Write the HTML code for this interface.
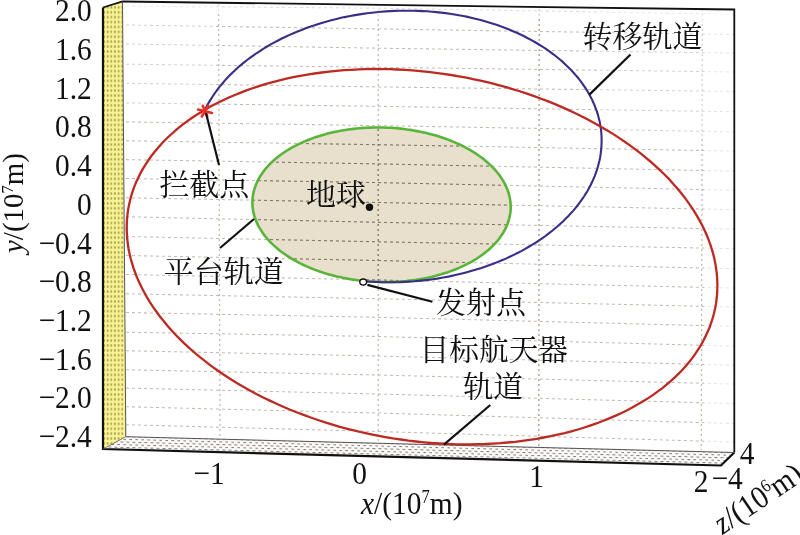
<!DOCTYPE html>
<html lang="zh-CN"><head><meta charset="utf-8"><title>轨道示意图</title>
<style>
html,body{margin:0;padding:0;background:#fff;}
body{width:800px;height:535px;overflow:hidden;}
svg{display:block;}
.gh{stroke-width:1.05;stroke-dasharray:3 3;fill:none;}
.gv{stroke-width:1.3;stroke-dasharray:2 3;fill:none;}
.lt{stroke:#c6baae;}
.dk{stroke:#7d7466;}
.dk .gh{stroke-width:1;}
.dk .gv{stroke-width:1.1;}
.n{font-family:"Liberation Serif","Noto Serif CJK SC",serif;font-size:32px;fill:#111;}
.c{font-family:"Liberation Serif","Noto Serif CJK SC",serif;fill:#111;}
</style></head><body>
<svg width="800" height="535" viewBox="0 0 800 535">
<defs>
<clipPath id="cb"><polygon points="123.5,2.5 733.5,10 733.5,452 126.5,436.5"/></clipPath>
<clipPath id="cg"><path d="M252.4 201.3 L252.5 199.3 L252.7 197.3 L253.0 195.2 L253.4 193.2 L253.8 191.2 L254.4 189.3 L255.0 187.3 L255.7 185.3 L256.5 183.4 L257.4 181.4 L258.3 179.5 L259.4 177.6 L260.5 175.7 L261.8 173.9 L263.1 172.0 L264.4 170.2 L265.9 168.4 L267.5 166.6 L269.1 164.9 L270.8 163.1 L272.6 161.5 L274.4 159.8 L276.3 158.2 L278.3 156.6 L280.4 155.0 L282.5 153.5 L284.7 152.0 L287.0 150.5 L289.3 149.1 L291.7 147.7 L294.2 146.4 L296.7 145.1 L299.3 143.8 L301.9 142.6 L304.6 141.4 L307.3 140.2 L310.1 139.2 L313.0 138.1 L315.9 137.1 L318.8 136.2 L321.8 135.2 L324.8 134.4 L327.8 133.6 L330.9 132.8 L334.1 132.1 L337.2 131.4 L340.4 130.8 L343.6 130.2 L346.9 129.7 L350.1 129.3 L353.4 128.9 L356.7 128.5 L360.1 128.2 L363.4 127.9 L366.7 127.7 L370.1 127.6 L373.5 127.5 L376.9 127.5 L380.2 127.5 L383.6 127.5 L387.0 127.7 L390.4 127.8 L393.7 128.0 L397.1 128.3 L400.5 128.6 L403.8 129.0 L407.1 129.5 L410.4 129.9 L413.7 130.5 L417.0 131.1 L420.2 131.7 L423.4 132.4 L426.6 133.1 L429.7 133.9 L432.9 134.7 L435.9 135.6 L439.0 136.5 L442.0 137.5 L445.0 138.5 L447.9 139.6 L450.8 140.7 L453.6 141.9 L456.4 143.1 L459.1 144.3 L461.8 145.6 L464.4 146.9 L467.0 148.3 L469.5 149.7 L471.9 151.1 L474.3 152.6 L476.6 154.1 L478.9 155.7 L481.1 157.2 L483.2 158.8 L485.2 160.5 L487.2 162.2 L489.1 163.9 L491.0 165.6 L492.7 167.4 L494.4 169.1 L496.0 170.9 L497.5 172.8 L499.0 174.6 L500.3 176.5 L501.6 178.4 L502.8 180.3 L503.9 182.2 L505.0 184.2 L505.9 186.1 L506.8 188.1 L507.6 190.1 L508.3 192.1 L508.9 194.1 L509.4 196.1 L509.8 198.1 L510.2 200.1 L510.4 202.1 L510.6 204.2 L510.7 206.2 L510.7 208.2 L510.6 210.2 L510.4 212.2 L510.1 214.3 L509.7 216.3 L509.3 218.3 L508.7 220.2 L508.1 222.2 L507.4 224.2 L506.6 226.1 L505.7 228.1 L504.8 230.0 L503.7 231.9 L502.6 233.8 L501.3 235.6 L500.0 237.5 L498.7 239.3 L497.2 241.1 L495.6 242.9 L494.0 244.6 L492.3 246.4 L490.5 248.0 L488.7 249.7 L486.8 251.3 L484.8 252.9 L482.7 254.5 L480.6 256.0 L478.4 257.5 L476.1 259.0 L473.8 260.4 L471.4 261.8 L468.9 263.1 L466.4 264.4 L463.8 265.7 L461.2 266.9 L458.5 268.1 L455.8 269.3 L453.0 270.3 L450.1 271.4 L447.2 272.4 L444.3 273.3 L441.3 274.3 L438.3 275.1 L435.3 275.9 L432.2 276.7 L429.0 277.4 L425.9 278.1 L422.7 278.7 L419.5 279.3 L416.2 279.8 L413.0 280.2 L409.7 280.6 L406.4 281.0 L403.0 281.3 L399.7 281.6 L396.4 281.8 L393.0 281.9 L389.6 282.0 L386.2 282.0 L382.9 282.0 L379.5 282.0 L376.1 281.8 L372.7 281.7 L369.4 281.5 L366.0 281.2 L362.6 280.9 L359.3 280.5 L356.0 280.0 L352.7 279.6 L349.4 279.0 L346.1 278.4 L342.9 277.8 L339.7 277.1 L336.5 276.4 L333.4 275.6 L330.2 274.8 L327.2 273.9 L324.1 273.0 L321.1 272.0 L318.1 271.0 L315.2 269.9 L312.3 268.8 L309.5 267.6 L306.7 266.4 L304.0 265.2 L301.3 263.9 L298.7 262.6 L296.1 261.2 L293.6 259.8 L291.2 258.4 L288.8 256.9 L286.5 255.4 L284.2 253.8 L282.0 252.3 L279.9 250.7 L277.9 249.0 L275.9 247.3 L274.0 245.6 L272.1 243.9 L270.4 242.1 L268.7 240.4 L267.1 238.6 L265.6 236.7 L264.1 234.9 L262.8 233.0 L261.5 231.1 L260.3 229.2 L259.2 227.3 L258.1 225.3 L257.2 223.4 L256.3 221.4 L255.5 219.4 L254.8 217.4 L254.2 215.4 L253.7 213.4 L253.3 211.4 L252.9 209.4 L252.7 207.4 L252.5 205.3 L252.4 203.3 L252.4 201.3 Z"/></clipPath>
<pattern id="py" width="3.65" height="4.9" patternUnits="userSpaceOnUse"><rect width="3.65" height="4.9" fill="#f8f392"/><rect x="1.2" y="1.3" width="1.2" height="2.3" fill="#847b38"/></pattern>
<pattern id="pf" width="6" height="5.4" patternUnits="userSpaceOnUse" patternTransform="skewY(1.5)"><rect width="6" height="5.4" fill="#fbfaf9"/><rect x="0.4" y="0.9" width="3" height="1" fill="#7f7b76"/><rect x="3.4" y="3.6" width="3" height="1" fill="#7f7b76"/></pattern>
</defs>
<rect x="0" y="0" width="800" height="535" fill="#fff"/>
<path d="M252.4 201.3 L252.5 199.3 L252.7 197.3 L253.0 195.2 L253.4 193.2 L253.8 191.2 L254.4 189.3 L255.0 187.3 L255.7 185.3 L256.5 183.4 L257.4 181.4 L258.3 179.5 L259.4 177.6 L260.5 175.7 L261.8 173.9 L263.1 172.0 L264.4 170.2 L265.9 168.4 L267.5 166.6 L269.1 164.9 L270.8 163.1 L272.6 161.5 L274.4 159.8 L276.3 158.2 L278.3 156.6 L280.4 155.0 L282.5 153.5 L284.7 152.0 L287.0 150.5 L289.3 149.1 L291.7 147.7 L294.2 146.4 L296.7 145.1 L299.3 143.8 L301.9 142.6 L304.6 141.4 L307.3 140.2 L310.1 139.2 L313.0 138.1 L315.9 137.1 L318.8 136.2 L321.8 135.2 L324.8 134.4 L327.8 133.6 L330.9 132.8 L334.1 132.1 L337.2 131.4 L340.4 130.8 L343.6 130.2 L346.9 129.7 L350.1 129.3 L353.4 128.9 L356.7 128.5 L360.1 128.2 L363.4 127.9 L366.7 127.7 L370.1 127.6 L373.5 127.5 L376.9 127.5 L380.2 127.5 L383.6 127.5 L387.0 127.7 L390.4 127.8 L393.7 128.0 L397.1 128.3 L400.5 128.6 L403.8 129.0 L407.1 129.5 L410.4 129.9 L413.7 130.5 L417.0 131.1 L420.2 131.7 L423.4 132.4 L426.6 133.1 L429.7 133.9 L432.9 134.7 L435.9 135.6 L439.0 136.5 L442.0 137.5 L445.0 138.5 L447.9 139.6 L450.8 140.7 L453.6 141.9 L456.4 143.1 L459.1 144.3 L461.8 145.6 L464.4 146.9 L467.0 148.3 L469.5 149.7 L471.9 151.1 L474.3 152.6 L476.6 154.1 L478.9 155.7 L481.1 157.2 L483.2 158.8 L485.2 160.5 L487.2 162.2 L489.1 163.9 L491.0 165.6 L492.7 167.4 L494.4 169.1 L496.0 170.9 L497.5 172.8 L499.0 174.6 L500.3 176.5 L501.6 178.4 L502.8 180.3 L503.9 182.2 L505.0 184.2 L505.9 186.1 L506.8 188.1 L507.6 190.1 L508.3 192.1 L508.9 194.1 L509.4 196.1 L509.8 198.1 L510.2 200.1 L510.4 202.1 L510.6 204.2 L510.7 206.2 L510.7 208.2 L510.6 210.2 L510.4 212.2 L510.1 214.3 L509.7 216.3 L509.3 218.3 L508.7 220.2 L508.1 222.2 L507.4 224.2 L506.6 226.1 L505.7 228.1 L504.8 230.0 L503.7 231.9 L502.6 233.8 L501.3 235.6 L500.0 237.5 L498.7 239.3 L497.2 241.1 L495.6 242.9 L494.0 244.6 L492.3 246.4 L490.5 248.0 L488.7 249.7 L486.8 251.3 L484.8 252.9 L482.7 254.5 L480.6 256.0 L478.4 257.5 L476.1 259.0 L473.8 260.4 L471.4 261.8 L468.9 263.1 L466.4 264.4 L463.8 265.7 L461.2 266.9 L458.5 268.1 L455.8 269.3 L453.0 270.3 L450.1 271.4 L447.2 272.4 L444.3 273.3 L441.3 274.3 L438.3 275.1 L435.3 275.9 L432.2 276.7 L429.0 277.4 L425.9 278.1 L422.7 278.7 L419.5 279.3 L416.2 279.8 L413.0 280.2 L409.7 280.6 L406.4 281.0 L403.0 281.3 L399.7 281.6 L396.4 281.8 L393.0 281.9 L389.6 282.0 L386.2 282.0 L382.9 282.0 L379.5 282.0 L376.1 281.8 L372.7 281.7 L369.4 281.5 L366.0 281.2 L362.6 280.9 L359.3 280.5 L356.0 280.0 L352.7 279.6 L349.4 279.0 L346.1 278.4 L342.9 277.8 L339.7 277.1 L336.5 276.4 L333.4 275.6 L330.2 274.8 L327.2 273.9 L324.1 273.0 L321.1 272.0 L318.1 271.0 L315.2 269.9 L312.3 268.8 L309.5 267.6 L306.7 266.4 L304.0 265.2 L301.3 263.9 L298.7 262.6 L296.1 261.2 L293.6 259.8 L291.2 258.4 L288.8 256.9 L286.5 255.4 L284.2 253.8 L282.0 252.3 L279.9 250.7 L277.9 249.0 L275.9 247.3 L274.0 245.6 L272.1 243.9 L270.4 242.1 L268.7 240.4 L267.1 238.6 L265.6 236.7 L264.1 234.9 L262.8 233.0 L261.5 231.1 L260.3 229.2 L259.2 227.3 L258.1 225.3 L257.2 223.4 L256.3 221.4 L255.5 219.4 L254.8 217.4 L254.2 215.4 L253.7 213.4 L253.3 211.4 L252.9 209.4 L252.7 207.4 L252.5 205.3 L252.4 203.3 L252.4 201.3 Z" fill="#e8e0cc" stroke="none"/>
<g class="lt" clip-path="url(#cb)"><path class="gh" d="M120 6.0 L378 8.2 L736 14.3"/><path class="gh" d="M120 24.9 L378 28.9 L736 34.6"/><path class="gh" d="M120 43.9 L378 48.2 L736 53.1"/><path class="gh" d="M120 64.1 L378 67.3 L736 72.0"/><path class="gh" d="M120 83.2 L378 86.9 L736 91.5"/><path class="gh" d="M120 102.8 L378 106.3 L736 111.8"/><path class="gh" d="M120 121.8 L378 125.6 L736 131.9"/><path class="gh" d="M120 140.7 L378 144.7 L736 151.1"/><path class="gh" d="M120 159.5 L378 163.9 L736 171.2"/><path class="gh" d="M120 178.4 L378 182.6 L736 190.3"/><path class="gh" d="M120 197.7 L378 202.5 L736 209.7"/><path class="gh" d="M120 216.6 L378 222.3 L736 229.2"/><path class="gh" d="M120 236.4 L378 241.8 L736 248.7"/><path class="gh" d="M120 255.4 L378 260.5 L736 268.8"/><path class="gh" d="M120 274.3 L378 280.0 L736 288.1"/><path class="gh" d="M120 293.7 L378 298.7 L736 307.1"/><path class="gh" d="M120 312.4 L378 317.3 L736 326.4"/><path class="gh" d="M120 332.1 L378 336.5 L736 346.2"/><path class="gh" d="M120 350.6 L378 356.0 L736 365.3"/><path class="gh" d="M120 369.6 L378 375.0 L736 384.1"/><path class="gh" d="M120 387.9 L378 394.0 L736 403.6"/><path class="gh" d="M120 406.6 L378 413.0 L736 423.6"/><path class="gh" d="M120 424.5 L378 431.5 L736 442.1"/><line class="gv" x1="218.6" y1="4" x2="220.0" y2="450"/><line class="gv" x1="378.2" y1="4" x2="378.2" y2="450"/><line class="gv" style="stroke:#a4988c" x1="539.2" y1="4" x2="538.8" y2="450"/><line class="gv" x1="702.4" y1="4" x2="701.3" y2="450"/></g>
<rect x="704" y="10" width="29" height="442" fill="#fff" opacity="0.6"/>
<polygon points="124,3 733,10 733,21 124,13" fill="#fff" opacity="0.5"/>
<rect x="124" y="3" width="92" height="110" fill="#fff" opacity="0.35"/>
<rect x="600" y="10" width="104" height="128" fill="#fff" opacity="0.35"/>
<g class="dk" clip-path="url(#cg)"><path class="gh" d="M120 6.0 L378 8.2 L736 14.3"/><path class="gh" d="M120 24.9 L378 28.9 L736 34.6"/><path class="gh" d="M120 43.9 L378 48.2 L736 53.1"/><path class="gh" d="M120 64.1 L378 67.3 L736 72.0"/><path class="gh" d="M120 83.2 L378 86.9 L736 91.5"/><path class="gh" d="M120 102.8 L378 106.3 L736 111.8"/><path class="gh" d="M120 121.8 L378 125.6 L736 131.9"/><path class="gh" d="M120 140.7 L378 144.7 L736 151.1"/><path class="gh" d="M120 159.5 L378 163.9 L736 171.2"/><path class="gh" d="M120 178.4 L378 182.6 L736 190.3"/><path class="gh" d="M120 197.7 L378 202.5 L736 209.7"/><path class="gh" d="M120 216.6 L378 222.3 L736 229.2"/><path class="gh" d="M120 236.4 L378 241.8 L736 248.7"/><path class="gh" d="M120 255.4 L378 260.5 L736 268.8"/><path class="gh" d="M120 274.3 L378 280.0 L736 288.1"/><path class="gh" d="M120 293.7 L378 298.7 L736 307.1"/><path class="gh" d="M120 312.4 L378 317.3 L736 326.4"/><path class="gh" d="M120 332.1 L378 336.5 L736 346.2"/><path class="gh" d="M120 350.6 L378 356.0 L736 365.3"/><path class="gh" d="M120 369.6 L378 375.0 L736 384.1"/><path class="gh" d="M120 387.9 L378 394.0 L736 403.6"/><path class="gh" d="M120 406.6 L378 413.0 L736 423.6"/><path class="gh" d="M120 424.5 L378 431.5 L736 442.1"/><line class="gv" x1="218.6" y1="4" x2="220.0" y2="450"/><line class="gv" x1="378.2" y1="4" x2="378.2" y2="450"/><line class="gv" style="stroke:#a4988c" x1="539.2" y1="4" x2="538.8" y2="450"/><line class="gv" x1="702.4" y1="4" x2="701.3" y2="450"/></g>
<polygon points="103.0,7.5 122.5,1.5 125.8,436.7 103.0,449.0" fill="url(#py)" stroke="none"/>
<polygon points="103.0,449.0 125.8,436.7 734.3,452.5 721.0,465.5" fill="url(#pf)" stroke="none"/>
<path d="M103.0 7.5 L122.5 1.5 L734.3 9.5 L734.3 452.5" fill="none" stroke="#111" stroke-width="1.8"/>
<path d="M103.0 7.5 L103.0 449.0 L721.0 465.5 L734.3 452.5" fill="none" stroke="#111" stroke-width="2.2" stroke-linejoin="miter"/>
<path d="M122.5 1.5 L125.8 436.7 L734.3 452.5" fill="none" stroke="#555" stroke-width="1"/>
<path d="M103.0 449.0 L125.8 436.7" fill="none" stroke="#5a5a50" stroke-width="0.8"/>
<path d="M252.4 201.3 L252.5 199.3 L252.7 197.3 L253.0 195.2 L253.4 193.2 L253.8 191.2 L254.4 189.3 L255.0 187.3 L255.7 185.3 L256.5 183.4 L257.4 181.4 L258.3 179.5 L259.4 177.6 L260.5 175.7 L261.8 173.9 L263.1 172.0 L264.4 170.2 L265.9 168.4 L267.5 166.6 L269.1 164.9 L270.8 163.1 L272.6 161.5 L274.4 159.8 L276.3 158.2 L278.3 156.6 L280.4 155.0 L282.5 153.5 L284.7 152.0 L287.0 150.5 L289.3 149.1 L291.7 147.7 L294.2 146.4 L296.7 145.1 L299.3 143.8 L301.9 142.6 L304.6 141.4 L307.3 140.2 L310.1 139.2 L313.0 138.1 L315.9 137.1 L318.8 136.2 L321.8 135.2 L324.8 134.4 L327.8 133.6 L330.9 132.8 L334.1 132.1 L337.2 131.4 L340.4 130.8 L343.6 130.2 L346.9 129.7 L350.1 129.3 L353.4 128.9 L356.7 128.5 L360.1 128.2 L363.4 127.9 L366.7 127.7 L370.1 127.6 L373.5 127.5 L376.9 127.5 L380.2 127.5 L383.6 127.5 L387.0 127.7 L390.4 127.8 L393.7 128.0 L397.1 128.3 L400.5 128.6 L403.8 129.0 L407.1 129.5 L410.4 129.9 L413.7 130.5 L417.0 131.1 L420.2 131.7 L423.4 132.4 L426.6 133.1 L429.7 133.9 L432.9 134.7 L435.9 135.6 L439.0 136.5 L442.0 137.5 L445.0 138.5 L447.9 139.6 L450.8 140.7 L453.6 141.9 L456.4 143.1 L459.1 144.3 L461.8 145.6 L464.4 146.9 L467.0 148.3 L469.5 149.7 L471.9 151.1 L474.3 152.6 L476.6 154.1 L478.9 155.7 L481.1 157.2 L483.2 158.8 L485.2 160.5 L487.2 162.2 L489.1 163.9 L491.0 165.6 L492.7 167.4 L494.4 169.1 L496.0 170.9 L497.5 172.8 L499.0 174.6 L500.3 176.5 L501.6 178.4 L502.8 180.3 L503.9 182.2 L505.0 184.2 L505.9 186.1 L506.8 188.1 L507.6 190.1 L508.3 192.1 L508.9 194.1 L509.4 196.1 L509.8 198.1 L510.2 200.1 L510.4 202.1 L510.6 204.2 L510.7 206.2 L510.7 208.2 L510.6 210.2 L510.4 212.2 L510.1 214.3 L509.7 216.3 L509.3 218.3 L508.7 220.2 L508.1 222.2 L507.4 224.2 L506.6 226.1 L505.7 228.1 L504.8 230.0 L503.7 231.9 L502.6 233.8 L501.3 235.6 L500.0 237.5 L498.7 239.3 L497.2 241.1 L495.6 242.9 L494.0 244.6 L492.3 246.4 L490.5 248.0 L488.7 249.7 L486.8 251.3 L484.8 252.9 L482.7 254.5 L480.6 256.0 L478.4 257.5 L476.1 259.0 L473.8 260.4 L471.4 261.8 L468.9 263.1 L466.4 264.4 L463.8 265.7 L461.2 266.9 L458.5 268.1 L455.8 269.3 L453.0 270.3 L450.1 271.4 L447.2 272.4 L444.3 273.3 L441.3 274.3 L438.3 275.1 L435.3 275.9 L432.2 276.7 L429.0 277.4 L425.9 278.1 L422.7 278.7 L419.5 279.3 L416.2 279.8 L413.0 280.2 L409.7 280.6 L406.4 281.0 L403.0 281.3 L399.7 281.6 L396.4 281.8 L393.0 281.9 L389.6 282.0 L386.2 282.0 L382.9 282.0 L379.5 282.0 L376.1 281.8 L372.7 281.7 L369.4 281.5 L366.0 281.2 L362.6 280.9 L359.3 280.5 L356.0 280.0 L352.7 279.6 L349.4 279.0 L346.1 278.4 L342.9 277.8 L339.7 277.1 L336.5 276.4 L333.4 275.6 L330.2 274.8 L327.2 273.9 L324.1 273.0 L321.1 272.0 L318.1 271.0 L315.2 269.9 L312.3 268.8 L309.5 267.6 L306.7 266.4 L304.0 265.2 L301.3 263.9 L298.7 262.6 L296.1 261.2 L293.6 259.8 L291.2 258.4 L288.8 256.9 L286.5 255.4 L284.2 253.8 L282.0 252.3 L279.9 250.7 L277.9 249.0 L275.9 247.3 L274.0 245.6 L272.1 243.9 L270.4 242.1 L268.7 240.4 L267.1 238.6 L265.6 236.7 L264.1 234.9 L262.8 233.0 L261.5 231.1 L260.3 229.2 L259.2 227.3 L258.1 225.3 L257.2 223.4 L256.3 221.4 L255.5 219.4 L254.8 217.4 L254.2 215.4 L253.7 213.4 L253.3 211.4 L252.9 209.4 L252.7 207.4 L252.5 205.3 L252.4 203.3 L252.4 201.3 Z" fill="none" stroke="#58b53a" stroke-width="2.6"/>
<path d="M205.4 109.0 L206.9 106.0 L208.5 103.1 L210.3 100.1 L212.1 97.2 L214.0 94.4 L216.0 91.5 L218.1 88.7 L220.3 85.9 L222.6 83.2 L225.0 80.4 L227.4 77.7 L230.0 75.1 L232.6 72.5 L235.4 69.9 L238.2 67.3 L241.1 64.9 L244.1 62.4 L247.1 60.0 L250.3 57.6 L253.5 55.3 L256.8 53.0 L260.2 50.8 L263.6 48.6 L267.1 46.5 L270.7 44.4 L274.4 42.4 L278.1 40.5 L281.8 38.5 L285.7 36.7 L289.6 34.9 L293.5 33.2 L297.5 31.5 L301.6 29.9 L305.7 28.3 L309.8 26.8 L314.0 25.4 L318.3 24.0 L322.6 22.7 L326.9 21.4 L331.2 20.3 L335.6 19.2 L340.1 18.1 L344.5 17.1 L349.0 16.2 L353.5 15.4 L358.1 14.6 L362.6 13.9 L367.2 13.3 L371.8 12.7 L376.4 12.2 L381.0 11.8 L385.6 11.4 L390.3 11.1 L394.9 10.9 L399.5 10.7 L404.2 10.7 L408.8 10.7 L413.5 10.7 L418.1 10.9 L422.7 11.1 L427.3 11.3 L431.9 11.7 L436.4 12.1 L441.0 12.6 L445.5 13.1 L450.0 13.8 L454.5 14.5 L458.9 15.2 L463.3 16.0 L467.7 16.9 L472.1 17.9 L476.4 18.9 L480.6 20.0 L484.8 21.2 L489.0 22.4 L493.1 23.7 L497.2 25.1 L501.2 26.5 L505.2 28.0 L509.1 29.5 L513.0 31.2 L516.8 32.8 L520.5 34.5 L524.2 36.3 L527.8 38.2 L531.4 40.1 L534.8 42.0 L538.2 44.0 L541.6 46.1 L544.8 48.2 L548.0 50.4 L551.1 52.6 L554.1 54.8 L557.1 57.2 L559.9 59.5 L562.7 61.9 L565.4 64.4 L568.0 66.9 L570.5 69.4 L572.9 72.0 L575.2 74.6 L577.5 77.2 L579.6 79.9 L581.7 82.6 L583.6 85.4 L585.5 88.1 L587.3 91.0 L588.9 93.8 L590.5 96.7 L592.0 99.6 L593.3 102.5 L594.6 105.4 L595.7 108.4 L596.8 111.4 L597.8 114.4 L598.6 117.4 L599.4 120.4 L600.0 123.5 L600.5 126.5 L601.0 129.6 L601.3 132.7 L601.5 135.8 L601.6 138.9 L601.6 142.0 L601.5 145.1 L601.3 148.2 L601.0 151.3 L600.6 154.3 L600.1 157.4 L599.5 160.5 L598.7 163.6 L597.9 166.7 L597.0 169.7 L595.9 172.8 L594.8 175.8 L593.5 178.8 L592.2 181.8 L590.8 184.8 L589.2 187.8 L587.6 190.7 L585.8 193.6 L584.0 196.5 L582.0 199.4 L580.0 202.2 L577.9 205.0 L575.6 207.8 L573.3 210.6 L570.9 213.3 L568.4 216.0 L565.8 218.6 L563.2 221.2 L560.4 223.8 L557.6 226.3 L554.6 228.8 L551.6 231.2 L548.5 233.6 L545.4 236.0 L542.1 238.3 L538.8 240.6 L535.4 242.8 L532.0 244.9 L528.4 247.0 L524.8 249.1 L521.2 251.1 L517.5 253.0 L513.7 254.9 L509.8 256.8 L505.9 258.6 L501.9 260.3 L497.9 261.9 L493.9 263.5 L489.7 265.1 L485.6 266.6 L481.4 268.0 L477.1 269.3 L472.8 270.6 L468.5 271.8 L464.1 273.0 L459.7 274.1 L455.3 275.1 L450.8 276.1 L446.3 277.0 L441.8 277.8 L437.2 278.6 L432.7 279.2 L428.1 279.9 L423.5 280.4 L418.9 280.9 L414.3 281.3 L409.6 281.6 L405.0 281.9 L400.4 282.1 L395.7 282.2 L391.1 282.3 L386.4 282.3 L381.8 282.2 L377.2 282.0 L372.6 281.8 L368.0 281.5 L363.4 281.2" fill="none" stroke="#3a2e88" stroke-width="2.1"/>
<path d="M128.1 209.7 L129.0 204.9 L130.1 200.2 L131.3 195.6 L132.8 190.9 L134.4 186.4 L136.3 181.8 L138.4 177.4 L140.6 172.9 L143.0 168.6 L145.7 164.3 L148.5 160.0 L151.5 155.8 L154.7 151.7 L158.1 147.7 L161.6 143.7 L165.4 139.8 L169.3 136.0 L173.4 132.3 L177.6 128.7 L182.0 125.1 L186.6 121.7 L191.4 118.3 L196.3 115.0 L201.4 111.9 L206.6 108.8 L211.9 105.8 L217.4 103.0 L223.1 100.2 L228.9 97.5 L234.8 95.0 L240.8 92.6 L247.0 90.2 L253.3 88.0 L259.7 85.9 L266.2 83.9 L272.8 82.1 L279.5 80.3 L286.4 78.7 L293.3 77.2 L300.3 75.9 L307.4 74.6 L314.5 73.5 L321.8 72.5 L329.1 71.6 L336.4 70.9 L343.9 70.2 L351.3 69.8 L358.9 69.4 L366.4 69.2 L374.1 69.0 L381.7 69.1 L389.4 69.2 L397.1 69.5 L404.8 69.9 L412.5 70.4 L420.2 71.1 L428.0 71.9 L435.7 72.8 L443.4 73.9 L451.1 75.0 L458.8 76.3 L466.5 77.7 L474.1 79.3 L481.7 80.9 L489.2 82.7 L496.7 84.6 L504.2 86.6 L511.6 88.8 L518.9 91.0 L526.2 93.4 L533.4 95.9 L540.5 98.5 L547.6 101.1 L554.5 103.9 L561.4 106.9 L568.1 109.9 L574.8 113.0 L581.4 116.2 L587.8 119.5 L594.2 122.9 L600.4 126.4 L606.5 130.0 L612.5 133.6 L618.3 137.4 L624.0 141.2 L629.6 145.1 L635.0 149.1 L640.3 153.2 L645.4 157.3 L650.4 161.5 L655.3 165.8 L659.9 170.1 L664.4 174.5 L668.8 178.9 L672.9 183.4 L676.9 188.0 L680.7 192.6 L684.4 197.2 L687.8 201.9 L691.1 206.6 L694.2 211.3 L697.1 216.1 L699.8 220.9 L702.4 225.8 L704.7 230.6 L706.9 235.5 L708.8 240.4 L710.6 245.3 L712.1 250.2 L713.5 255.1 L714.6 260.0 L715.6 264.9 L716.3 269.8 L716.9 274.7 L717.2 279.6 L717.4 284.5 L717.3 289.3 L717.1 294.2 L716.6 299.0 L716.0 303.7 L715.1 308.5 L714.0 313.2 L712.8 317.8 L711.3 322.5 L709.7 327.0 L707.8 331.6 L705.7 336.0 L703.5 340.5 L701.1 344.8 L698.4 349.1 L695.6 353.4 L692.6 357.6 L689.4 361.7 L686.0 365.7 L682.5 369.7 L678.7 373.6 L674.8 377.4 L670.7 381.1 L666.5 384.7 L662.1 388.3 L657.5 391.7 L652.7 395.1 L647.8 398.4 L642.7 401.5 L637.5 404.6 L632.2 407.6 L626.7 410.4 L621.0 413.2 L615.2 415.9 L609.3 418.4 L603.3 420.8 L597.1 423.2 L590.8 425.4 L584.4 427.5 L577.9 429.5 L571.3 431.3 L564.6 433.1 L557.7 434.7 L550.8 436.2 L543.8 437.5 L536.7 438.8 L529.6 439.9 L522.3 440.9 L515.0 441.8 L507.7 442.5 L500.2 443.2 L492.8 443.6 L485.2 444.0 L477.7 444.2 L470.0 444.4 L462.4 444.3 L454.7 444.2 L447.0 443.9 L439.3 443.5 L431.6 443.0 L423.9 442.3 L416.1 441.5 L408.4 440.6 L400.7 439.5 L393.0 438.4 L385.3 437.1 L377.6 435.7 L370.0 434.1 L362.4 432.5 L354.9 430.7 L347.4 428.8 L339.9 426.8 L332.5 424.6 L325.2 422.4 L317.9 420.0 L310.7 417.5 L303.6 414.9 L296.5 412.3 L289.6 409.5 L282.7 406.5 L276.0 403.5 L269.3 400.4 L262.7 397.2 L256.3 393.9 L249.9 390.5 L243.7 387.0 L237.6 383.4 L231.6 379.8 L225.8 376.0 L220.1 372.2 L214.5 368.3 L209.1 364.3 L203.8 360.2 L198.7 356.1 L193.7 351.9 L188.8 347.6 L184.2 343.3 L179.7 338.9 L175.3 334.5 L171.2 330.0 L167.2 325.4 L163.4 320.8 L159.7 316.2 L156.3 311.5 L153.0 306.8 L149.9 302.1 L147.0 297.3 L144.3 292.5 L141.7 287.6 L139.4 282.8 L137.2 277.9 L135.3 273.0 L133.5 268.1 L132.0 263.2 L130.6 258.3 L129.5 253.4 L128.5 248.5 L127.8 243.6 L127.2 238.7 L126.9 233.8 L126.7 228.9 L126.8 224.1 L127.0 219.2 L127.5 214.4 L128.1 209.7 Z" fill="none" stroke="#bd2a22" stroke-width="2.3"/>
<circle cx="369.5" cy="207.3" r="3.7" fill="#111"/>
<ellipse cx="363.2" cy="282" rx="3.4" ry="3" fill="#fff" stroke="#111" stroke-width="1.4"/>
<g stroke="#eb2f25" stroke-width="2.6" stroke-linecap="round"><path d="M198.0 109.5L212.0 112.9 M201.8 116.5L208.2 105.9 M202.8 105.8L207.2 116.6"/></g>
<g stroke="#111" stroke-width="2.2" fill="none"><path d="M206 113L219 165"/><path d="M630.5 54.5L589.4 94.6"/><path d="M254 219L220 248"/><path d="M367.4 284.9L432.4 301.8"/><path d="M490.3 405L443.9 444.6"/></g>
<text class="c" x="582.5" y="46.7" font-size="30">转移轨道</text>
<text class="c" x="159.2" y="194.5" font-size="30">拦截点</text>
<text class="c" x="306.0" y="205.0" font-size="30">地球</text>
<text class="c" x="163.8" y="282.0" font-size="30">平台轨道</text>
<text class="c" x="436.0" y="313.0" font-size="30">发射点</text>
<text class="c" x="419.6" y="360.2" font-size="29.7">目标航天器</text>
<text class="c" x="463.3" y="396.8" font-size="30">轨道</text>
<text class="n" transform="translate(91.8,21.3) scale(0.92,1)" text-anchor="end">2.0</text>
<text class="n" transform="translate(91.8,60.0) scale(0.92,1)" text-anchor="end">1.6</text>
<text class="n" transform="translate(91.8,98.7) scale(0.92,1)" text-anchor="end">1.2</text>
<text class="n" transform="translate(91.8,137.4) scale(0.92,1)" text-anchor="end">0.8</text>
<text class="n" transform="translate(91.8,176.1) scale(0.92,1)" text-anchor="end">0.4</text>
<text class="n" transform="translate(91.8,214.8) scale(0.92,1)" text-anchor="end">0</text>
<text class="n" transform="translate(91.8,253.5) scale(0.92,1)" text-anchor="end">−0.4</text>
<text class="n" transform="translate(91.8,292.2) scale(0.92,1)" text-anchor="end">−0.8</text>
<text class="n" transform="translate(91.8,330.9) scale(0.92,1)" text-anchor="end">−1.2</text>
<text class="n" transform="translate(91.8,369.6) scale(0.92,1)" text-anchor="end">−1.6</text>
<text class="n" transform="translate(91.8,408.3) scale(0.92,1)" text-anchor="end">−2.0</text>
<text class="n" transform="translate(91.8,447.0) scale(0.92,1)" text-anchor="end">−2.4</text>
<text class="n" transform="translate(209.0,484.2) scale(0.92,1)" text-anchor="middle">−1</text>
<text class="n" transform="translate(359.5,484.2) scale(0.92,1)" text-anchor="middle">0</text>
<text class="n" transform="translate(536.5,487.1) scale(0.92,1)" text-anchor="middle">1</text>
<text class="n" transform="translate(701.0,492.4) scale(0.92,1)" text-anchor="middle">2</text>
<text class="n" transform="translate(747.0,463.6) scale(0.92,1)" text-anchor="middle">4</text>
<text class="n" transform="translate(711.4,489.3) scale(0.92,1)" text-anchor="start">−4</text>
<text class="n" transform="translate(361.0,514.2) scale(0.92,1)" text-anchor="start"><tspan font-style="italic">x</tspan>/(10<tspan dy="-11" font-size="18">7</tspan><tspan dy="11">m)</tspan></text>
<text class="n" font-size="30" style="font-size:30px" transform="translate(23,253) rotate(-90) scale(0.965,1)"><tspan font-style="italic">y</tspan>/(10<tspan dy="-10" font-size="17">7</tspan><tspan dy="10">m)</tspan></text>
<text class="n" transform="translate(722.6,535.0) rotate(-34) scale(0.92,1)" text-anchor="start"><tspan font-style="italic">z</tspan>/(10<tspan dy="-11" font-size="18">6</tspan><tspan dy="11">m)</tspan></text>
</svg>
</body></html>
